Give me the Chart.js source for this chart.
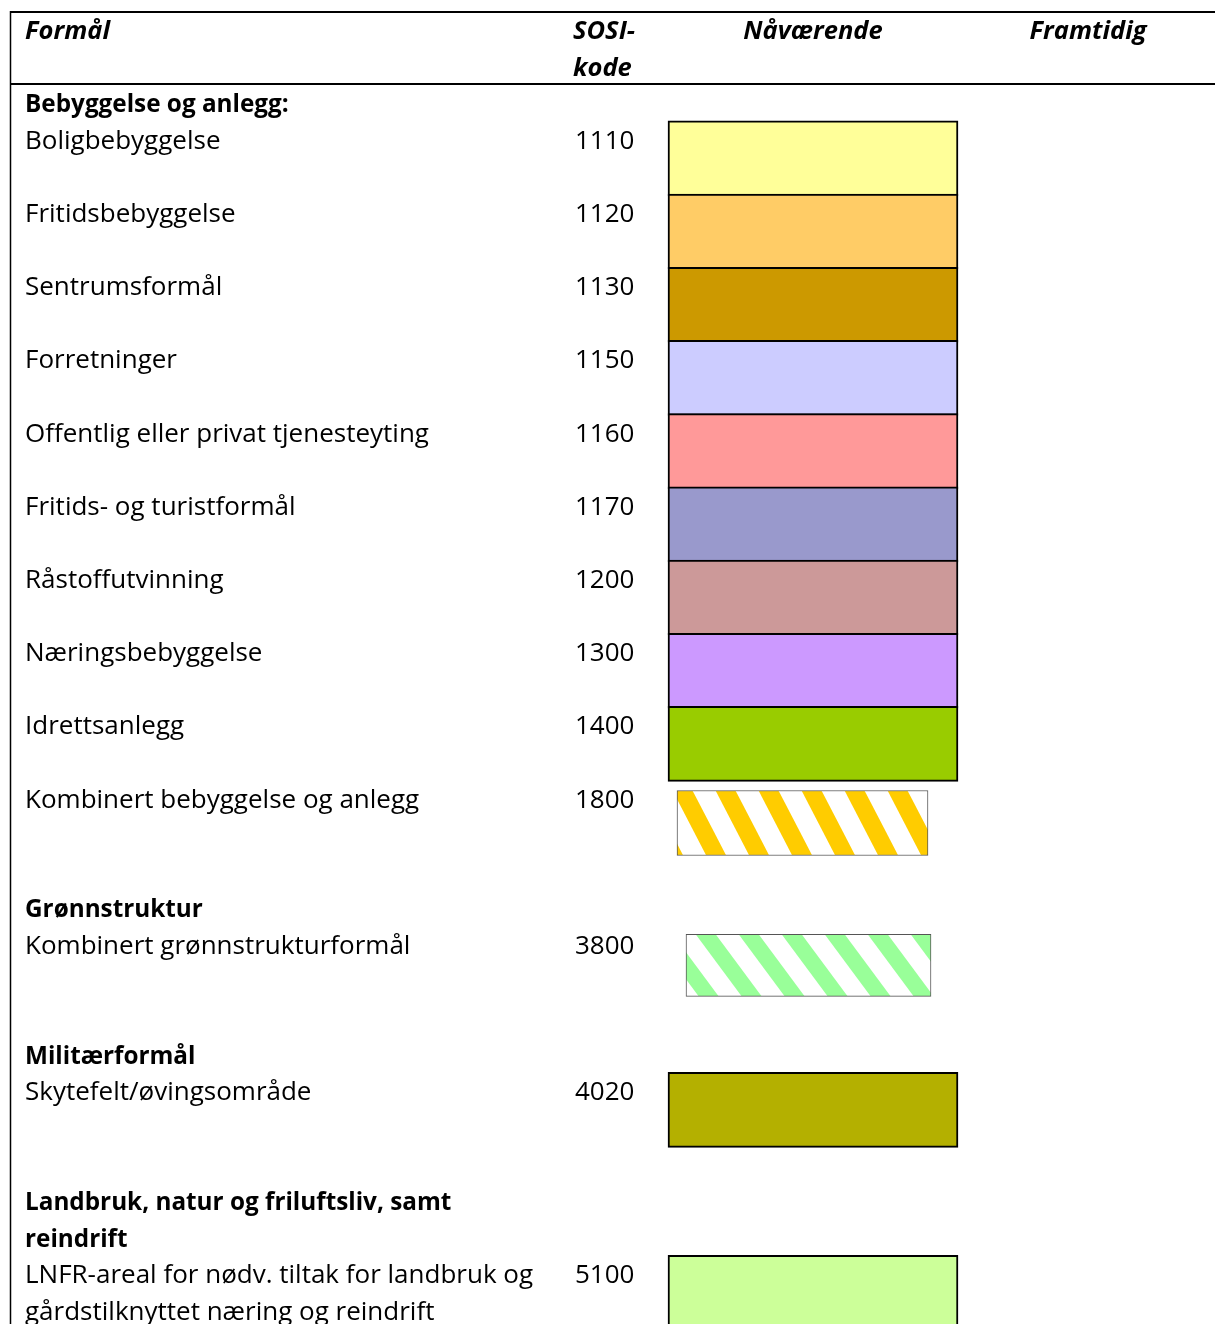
<!DOCTYPE html>
<html lang="no">
<head>
<meta charset="utf-8">
<title>Arealformål – tegnforklaring</title>
<script src="https://cdn.jsdelivr.net/npm/chart.js@4.4.1/dist/chart.umd.min.js"></script>
<style>
  html, body { margin: 0; padding: 0; background: #fff; }
  #wrap { width: 1215px; height: 1324px; }
</style>
</head>
<body>
<div id="wrap"><canvas id="legendChart" width="1215" height="1324"></canvas></div>
<script>
// Column headings
const headers = ['Formål', 'SOSI-\nkode', 'Nåværende', 'Framtidig'];

// Groups of land-use purposes
const groupTitles = [
    'Bebyggelse og anlegg:',
    'Grønnstruktur',
    'Militærformål',
    'Landbruk, natur og friluftsliv, samt\nreindrift'
];

const purposes = [
    'Boligbebyggelse', 'Fritidsbebyggelse', 'Sentrumsformål', 'Forretninger',
    'Offentlig eller privat tjenesteyting', 'Fritids- og turistformål', 'Råstoffutvinning',
    'Næringsbebyggelse', 'Idrettsanlegg', 'Kombinert bebyggelse og anlegg',
    'Kombinert grønnstrukturformål',
    'Skytefelt/øvingsområde',
    'LNFR-areal for nødv. tiltak for landbruk og\ngårdstilknyttet næring og reindrift'
];
const sosiCodes = ['1110', '1120', '1130', '1150', '1160', '1170', '1200', '1300', '1400', '1800', '3800', '4020', '5100'];
const purposeGroup = [0, 0, 0, 0, 0, 0, 0, 0, 0, 0, 1, 2, 3];

// Fill of the "Nåværende" symbol (hatch* = striped symbol)
const swatchFill = ['#FFFF99', '#FFCC66', '#CC9900', '#CCCCFF', '#FF9999', '#9999CC', '#CC9999',
    '#CC99FF', '#99CC00', 'hatchYellow', 'hatchGreen', '#B4B000', '#CCFF99'];

// ---- layout (pixels / text lines) ----
const LINE_PX = 36.6;      // one text line
const FIRST_BASELINE = 39;
const FONT = '"Open Sans", "Noto Sans", sans-serif';
const FONT_HEAD = 'italic bold 25.5px ' + FONT;
const FONT_TITLE = 'bold 24.3px ' + FONT;
const FONT_TEXT = '26px ' + FONT;

// Work out on which text line every title and row starts
function layoutLines() {
    const rowLine = [];
    const titleLine = [];
    let line = 2;
    let lastGroup = -1;
    purposes.forEach((p, i) => {
        const g = purposeGroup[i];
        if (g !== lastGroup) {
            if (lastGroup >= 0) line += 1; // empty line before a new group
            titleLine[g] = line;
            line += groupTitles[g].split('\n').length;
            lastGroup = g;
        }
        rowLine[i] = line;
        line += 2;
    });
    return { rowLine, titleLine };
}

// Diagonal stripe pattern
function stripePattern(color, period, shear, stripe, phase) {
    const h = Math.round(period / shear);
    const c = document.createElement('canvas');
    c.width = period;
    c.height = h;
    const g = c.getContext('2d');
    g.fillStyle = '#fff';
    g.fillRect(0, 0, period, h);
    g.fillStyle = color;
    for (let k = -1; k <= 1; k++) {
        const x0 = k * period;
        g.beginPath();
        g.moveTo(x0, 0);
        g.lineTo(x0 + stripe, 0);
        g.lineTo(x0 + stripe + period, h);
        g.lineTo(x0 + period, h);
        g.closePath();
        g.fill();
    }
    const pat = g.createPattern(c, 'repeat');
    pat.setTransform(new DOMMatrix().translate(phase, 0));
    return pat;
}

const patterns = {
    hatchYellow: stripePattern('#FFCC00', 43, 0.52, 20, 5),
    hatchGreen: stripePattern('#99FF99', 43, 0.74, 20, 3)
};

// Symbol styles per kind
const symbolStyle = {
    solid:       { x: [668, 958], shift: 0.26, thickness: 75, border: 2, borderColor: '#000' },
    hatchYellow: { x: [677, 928], shift: 0.42, thickness: 65, border: 1, borderColor: '#555' },
    hatchGreen:  { x: [686, 931], shift: 0.31, thickness: 62, border: 1, borderColor: '#555' }
};

function initLegendChart() {
    const ctx = document.getElementById('legendChart');
    const { rowLine, titleLine } = layoutLines();

    const kindOf = fill => fill.charAt(0) === '#' ? 'solid' : fill;
    const datasets = Object.keys(symbolStyle).map(kind => {
        const st = symbolStyle[kind];
        const idx = swatchFill.map((f, i) => i).filter(i => kindOf(swatchFill[i]) === kind);
        return {
            label: kind,
            data: idx.map(i => ({ x: st.x, y: rowLine[i] + st.shift })),
            backgroundColor: idx.map(i => kind === 'solid' ? swatchFill[i] : patterns[kind]),
            borderColor: st.borderColor,
            borderWidth: st.border,
            borderSkipped: false,
            barThickness: st.thickness,
            grouped: false
        };
    });

    // Table rules and texts
    const tablePlugin = {
        id: 'tableText',
        afterDatasetsDraw(chart) {
            const c = chart.ctx;
            const yPix = line => chart.scales.y.getPixelForValue(line);
            const xPix = v => chart.scales.x.getPixelForValue(v);

            c.save();
            c.strokeStyle = '#000';
            c.lineWidth = 2;
            c.beginPath();
            c.moveTo(xPix(10), 12); c.lineTo(xPix(1215), 12);
            c.moveTo(xPix(10), 84); c.lineTo(xPix(1215), 84);
            c.stroke();
            c.lineWidth = 1.5;
            c.beginPath();
            c.moveTo(10.5, 11); c.lineTo(10.5, chart.height);
            c.stroke();

            c.fillStyle = '#000';
            c.textBaseline = 'alphabetic';

            // header
            c.font = FONT_HEAD;
            c.textAlign = 'left';
            c.fillText(headers[0], xPix(25), yPix(0));
            headers[1].split('\n').forEach((t, k) => c.fillText(t, xPix(573), yPix(k)));
            c.textAlign = 'center';
            c.fillText(headers[2], xPix(813), yPix(0));
            c.fillText(headers[3], xPix(1088), yPix(0));

            // group titles
            c.textAlign = 'left';
            c.font = FONT_TITLE;
            groupTitles.forEach((t, g) => {
                t.split('\n').forEach((s, k) => c.fillText(s, xPix(25), yPix(titleLine[g] + k)));
            });

            // rows
            c.font = FONT_TEXT;
            purposes.forEach((t, i) => {
                t.split('\n').forEach((s, k) => c.fillText(s, xPix(25), yPix(rowLine[i] + k)));
                c.fillText(sosiCodes[i], xPix(575), yPix(rowLine[i]));
            });
            c.restore();
        }
    };

    new Chart(ctx, {
        type: 'bar',
        data: { datasets },
        options: {
            indexAxis: 'y',
            responsive: false,
            animation: false,
            events: [],
            layout: { padding: 0 },
            scales: {
                x: { type: 'linear', min: 0, max: 1215, display: false },
                y: {
                    type: 'linear',
                    reverse: true,
                    offset: false,
                    min: -FIRST_BASELINE / LINE_PX,
                    max: (1324 - FIRST_BASELINE) / LINE_PX,
                    display: false
                }
            },
            plugins: {
                legend: { display: false },
                tooltip: { enabled: false }
            }
        },
        plugins: [tablePlugin]
    });
}

document.addEventListener('DOMContentLoaded', initLegendChart);
</script>
</body>
</html>
